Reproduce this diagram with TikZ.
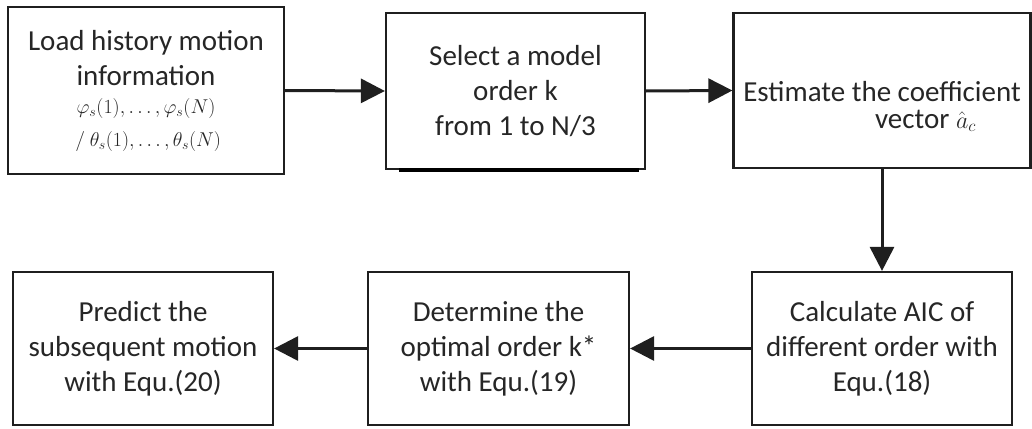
\RequirePackage{fix-cm}
\documentclass[tikz,border=0pt]{standalone}
\usepackage[no-math]{fontspec}
\setmainfont{Carlito}
\usetikzlibrary{arrows.meta}
\newcommand{\mathsz}{\fontsize{20}{24}\selectfont}
\begin{document}
\begin{tikzpicture}[x=1pt,y=1pt,
  box/.style={draw=black!88, line width=2.2pt, align=center, inner sep=0pt,
    font=\fontsize{29}{35}\selectfont, text=black!85},
  flow/.style={line width=3pt, draw=black!88, -{Triangle[length=24pt,width=24pt]}}]
\useasboundingbox (0,0) rectangle (1032,-428);
% top row
\node [box, minimum width=276pt, minimum height=167pt] (load) at (146,-90.5)
  {Load history motion\\information\\[-7pt]
   {\mathsz$\varphi_s(1),\ldots,\varphi_s(N)$}\\[-2pt]
   {\mathsz$\ /\ \theta_s(1),\ldots,\theta_s(N)$}};
\node [box, minimum width=259pt, minimum height=156pt] (select) at (515.5,-91)
  {Select a model\\order k\\from 1 to N/3};
\node [box, minimum width=297pt, minimum height=155pt] (estim) at (882,-90.5)
  {\mbox{}\\[17pt]Estimate the coefficient\\[-8pt]
   \hspace*{3em}vector {\fontsize{24}{28}\selectfont$\hat{a}_c$}};
\draw [line width=4pt, black] ([xshift=14pt]select.south west) -- ([xshift=-7pt]select.south east);
% bottom row
\node [box, minimum width=260pt, minimum height=153pt] (aic) at (882,-348.5)
  {Calculate AIC of\\different order with\\Equ.(18)};
\node [box, minimum width=261pt, minimum height=153pt] (optim) at (498.5,-348.5)
  {Determine the\\optimal order k*\\with Equ.(19)};
\node [box, minimum width=260pt, minimum height=153pt] (pred) at (143,-348.5)
  {Predict the\\subsequent motion\\with Equ.(20)};
% connectors
\draw [flow] (load.east) -- (select.west);
\draw [flow] (select.east) -- (estim.west);
\draw [flow] (estim.south) -- (aic.north);
\draw [flow] (aic.west) -- (optim.east);
\draw [flow] (optim.west) -- (pred.east);
\end{tikzpicture}
\end{document}
